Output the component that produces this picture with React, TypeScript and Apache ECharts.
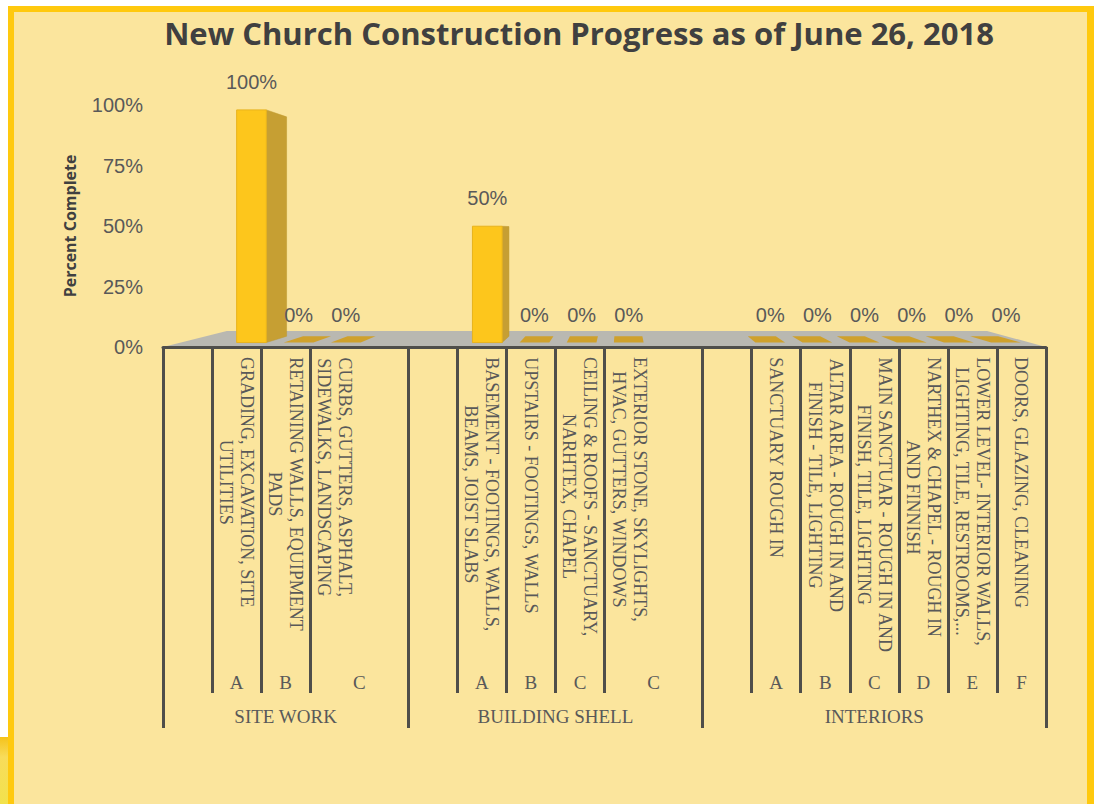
import React, { useEffect, useRef } from 'react';
import * as echarts from 'echarts';

// ---------- data ----------
const groups = ['SITE WORK', 'BUILDING SHELL', 'INTERIORS'];
// group index of each of the 18 category slots
const slotGroups = [0, 0, 0, 0, 0, 1, 1, 1, 1, 1, 1, 2, 2, 2, 2, 2, 2, 2];
const slotLetters = ['', 'A', 'B', 'C', '', '', 'A', 'B', 'C', 'C', '', '', 'A', 'B', 'C', 'D', 'E', 'F'];
const slotTasks = [
  '',
  'GRADING, EXCAVATION, SITE\nUTILITIES',
  'RETAINING WALLS, EQUIPMENT\nPADS',
  'CURBS, GUTTERS, ASPHALT,\nSIDEWALKS, LANDSCAPING',
  '',
  '',
  'BASEMENT - FOOTINGS, WALLS,\nBEAMS, JOIST SLABS',
  'UPSTAIRS - FOOTINGS, WALLS',
  'CEILING & ROOFS - SANCTUARY,\nNARHTEX, CHAPEL',
  'EXTERIOR STONE, SKYLIGHTS,\nHVAC, GUTTERS, WINDOWS',
  '',
  '',
  'SANCTUARY ROUGH IN',
  'ALTAR AREA - ROUGH IN AND\nFINISH - TILE, LIGHTING',
  'MAIN SANCTUAR - ROUGH IN AND\nFINISH, TILE, LIGHTING',
  'NARTHEX & CHAPEL - ROUGH IN\nAND FINNISH',
  'LOWER LEVEL- INTERIOR WALLS,\nLIGHTING, TILE, RESTROOMS,...',
  'DOORS, GLAZING, CLEANING',
];
// percent complete (fraction); null = empty slot
const percentComplete = [null, 1, 0, 0, null, null, 0.5, 0, 0, 0, null, null, 0, 0, 0, 0, 0, 0];
const yTickLabels = ['0%', '25%', '50%', '75%', '100%'];

const TITLE = 'New Church Construction Progress as of June 26, 2018';
const Y_NAME = 'Percent Complete';

// ---------- derived helpers ----------
const N = slotTasks.length;
const isGroupStart = (i: number) => i === 0 || slotGroups[i] !== slotGroups[i - 1];
const hasSeparator = (i: number) => isGroupStart(i) || slotTasks[i] !== '';

const letterMarks: { pos: number; text: string }[] = [];
for (let i = 0; i < N; i++) {
  if (!slotLetters[i]) continue;
  let j = i + 1;
  while (j < N && !slotLetters[j] && !isGroupStart(j)) j++;
  letterMarks.push({ pos: (i + j) / 2, text: slotLetters[i] });
}
const groupMarks: { pos: number; text: string }[] = groups.map((g, gi) => {
  const first = slotGroups.indexOf(gi);
  const last = slotGroups.lastIndexOf(gi) + 1;
  return { pos: (first + last) / 2, text: g };
});
const findMark = (marks: { pos: number; text: string }[], v: number) => {
  const m = marks.find((mm) => Math.abs(mm.pos - v) < 1e-6);
  return m ? m.text : '';
};

const barData = percentComplete
  .map((v, i) => (v === null ? null : [i, v]))
  .filter((d) => d !== null) as number[][];

// ---------- style constants ----------
const VX = 622; // perspective vanishing point
const VY = 232;
const DEPTH_FRONT = 0.0387;
const DEPTH_BACK = 0.0934;
const DEPTH_FLOOR = 0.139;
const BAR_FRAC = 0.63;
const LINE_COLOR = '#4F4E4A';
const TEXT_GRAY = '#595959';

const P = (x: number, y: number, d: number) => [x + (VX - x) * d, y + (VY - y) * d];

export default function App() {
  const ref = useRef<HTMLDivElement>(null);
  useEffect(() => {
    if (!ref.current) return;
    const chart = echarts.init(ref.current, undefined, { renderer: 'svg' });
    const option: any = {
      animation: false,
      title: {
        text: TITLE,
        left: 579,
        top: 17,
        textAlign: 'center',
        padding: 0,
        textStyle: { fontFamily: 'Open Sans', fontWeight: 'bold', fontSize: 31, color: '#404040' },
      },
      graphic: [
        { type: 'rect', z: -100, silent: true, shape: { x: 8, y: 6, width: 1086, height: 798 }, style: { fill: '#FFC90E' } },
        { type: 'rect', z: -100, silent: true, shape: { x: 14, y: 12, width: 1073, height: 792 }, style: { fill: '#FBE59D' } },
        {
          type: 'rect', z: -100, silent: true,
          shape: { x: 0, y: 737, width: 8, height: 67 },
          style: {
            fill: new echarts.graphic.LinearGradient(0, 0, 0, 1, [
              { offset: 0, color: '#F5C21A' },
              { offset: 0.3, color: '#F8DC5A' },
              { offset: 1, color: '#F2E24C' },
            ]),
          },
        },
      ],
      grid: { left: 163, right: 48, top: 105, bottom: 457, containLabel: false },
      yAxis: {
        type: 'value',
        min: 0,
        max: 1,
        interval: 0.25,
        name: Y_NAME,
        nameLocation: 'middle',
        nameRotate: 90,
        nameGap: 85,
        nameTextStyle: { fontFamily: 'Open Sans', fontWeight: 'bold', fontSize: 16, color: '#404040' },
        axisLine: { show: false },
        axisTick: { show: false },
        splitLine: { show: false },
        axisLabel: {
          margin: 20,
          fontFamily: 'Liberation Sans',
          fontSize: 20,
          color: TEXT_GRAY,
          formatter: (v: number) => yTickLabels[Math.round(v * 4)] ?? '',
        },
      },
      xAxis: [
        {
          type: 'category',
          position: 'bottom',
          data: slotTasks.map((_, i) => 'slot' + i),
          axisLine: { show: true, onZero: false, lineStyle: { color: LINE_COLOR, width: 3 } },
          axisTick: {
            show: true,
            interval: (i: number) => hasSeparator(i),
            length: 346,
            lineStyle: { color: LINE_COLOR, width: 3 },
          },
          axisLabel: {
            interval: 0,
            rotate: -90,
            margin: 10,
            formatter: (_v: string, i: number) =>
              slotTasks[i] ? slotTasks[i].split('\n').map((l) => '{c|' + l + '}').join('\n') : '',
            rich: {
              c: { align: 'center', fontFamily: 'Liberation Serif', fontSize: 18, lineHeight: 21, color: TEXT_GRAY },
            },
          },
        },
        {
          type: 'category',
          position: 'bottom',
          data: slotTasks.map((_, i) => 'g' + i),
          axisLine: { show: false },
          axisLabel: { show: false },
          axisTick: {
            show: true,
            interval: (i: number) => isGroupStart(i),
            length: 381,
            lineStyle: { color: LINE_COLOR, width: 3 },
          },
        },
        {
          type: 'value',
          position: 'bottom',
          min: 0,
          max: N,
          interval: 0.5,
          axisLine: { show: false },
          axisTick: { show: false },
          splitLine: { show: false },
          axisLabel: {
            margin: 326,
            fontFamily: 'Liberation Serif',
            fontSize: 19,
            color: TEXT_GRAY,
            formatter: (v: number) => findMark(letterMarks, v),
          },
        },
        {
          type: 'value',
          position: 'bottom',
          min: 0,
          max: N,
          interval: 0.5,
          axisLine: { show: false },
          axisTick: { show: false },
          splitLine: { show: false },
          axisLabel: {
            margin: 360,
            fontFamily: 'Liberation Serif',
            fontSize: 19,
            color: TEXT_GRAY,
            formatter: (v: number) => findMark(groupMarks, v),
          },
        },
      ],
      series: [
        {
          type: 'custom',
          name: 'floor',
          z: -1,
          xAxisIndex: 0,
          yAxisIndex: 0,
          data: [[0, 0]],
          renderItem: (params: any) => {
            const cs = params.coordSys;
            const yb = cs.y + cs.height;
            const xl = cs.x;
            const xr = cs.x + cs.width;
            return {
              type: 'polygon',
              shape: { points: [[xl, yb], [xr, yb], P(xr, yb, DEPTH_FLOOR), P(xl, yb, DEPTH_FLOOR)] },
              style: { fill: '#B9B8B1' },
            };
          },
        },
        {
          type: 'custom',
          name: 'Percent Complete',
          xAxisIndex: 0,
          yAxisIndex: 0,
          encode: { x: 0, y: 1 },
          data: barData,
          renderItem: (_params: any, api: any) => {
            const i = api.value(0);
            const v = api.value(1);
            const c0 = api.coord([i, 0]);
            const c1 = api.coord([i, v]);
            const band = api.size([1, 0])[0];
            const w = band * BAR_FRAC;
            const xl = c0[0] - w / 2;
            const xr = c0[0] + w / 2;
            const y0 = c0[1];
            const yv = c1[1];
            const children: any[] = [];
            if (v > 0) {
              if (yv > VY) {
                children.push({
                  type: 'polygon',
                  shape: { points: [P(xl, yv, DEPTH_FRONT), P(xr, yv, DEPTH_FRONT), P(xr, yv, DEPTH_BACK), P(xl, yv, DEPTH_BACK)] },
                  style: { fill: '#E9BB2A' },
                });
              }
              children.push({
                type: 'polygon',
                shape: { points: [P(xr, yv, DEPTH_FRONT), P(xr, yv, DEPTH_BACK), P(xr, y0, DEPTH_BACK), P(xr, y0, DEPTH_FRONT)] },
                style: { fill: '#C69F33', stroke: '#BF982C', lineWidth: 0.5 },
              });
              children.push({
                type: 'polygon',
                shape: { points: [P(xl, yv, DEPTH_FRONT), P(xr, yv, DEPTH_FRONT), P(xr, y0, DEPTH_FRONT), P(xl, y0, DEPTH_FRONT)] },
                style: { fill: '#FDC61C', stroke: '#E8B31C', lineWidth: 1 },
              });
            } else {
              children.push({
                type: 'polygon',
                shape: { points: [P(xl, y0, DEPTH_FRONT), P(xr, y0, DEPTH_FRONT), P(xr, y0, DEPTH_BACK), P(xl, y0, DEPTH_BACK)] },
                style: { fill: '#CFA12C' },
              });
            }
            const lp = P(c0[0], yv, DEPTH_FRONT);
            children.push({
              type: 'text',
              x: lp[0],
              y: lp[1] - 28,
              style: {
                text: Math.round(v * 100) + '%',
                fill: TEXT_GRAY,
                fontFamily: 'Liberation Sans',
                fontSize: 20,
                align: 'center',
                verticalAlign: 'middle',
              },
            });
            return { type: 'group', children };
          },
        },
      ],
    };
    chart.setOption(option);
    return () => chart.dispose();
  }, []);
  return (
    <div
      ref={ref}
      style={{ position: 'absolute', left: 0, top: 0, width: 1094, height: 804, background: '#ffffff' }}
    />
  );
}
